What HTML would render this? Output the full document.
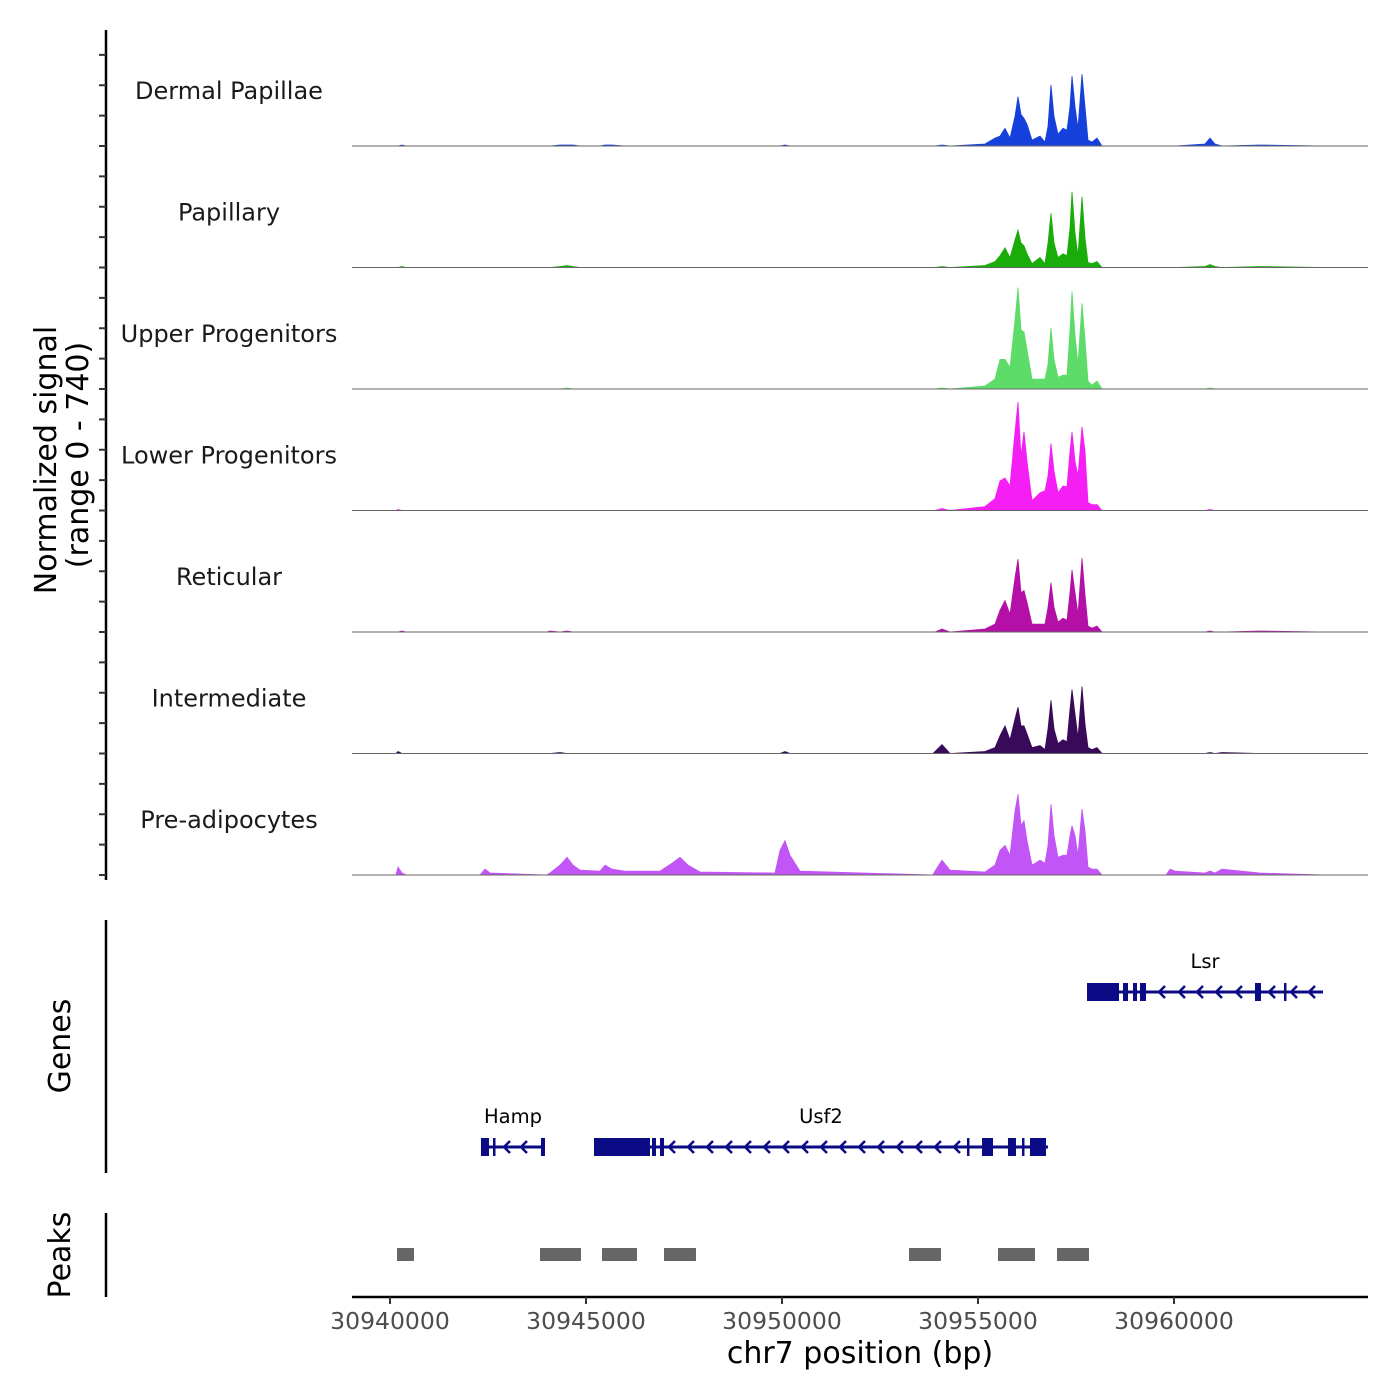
<!DOCTYPE html>
<html><head><meta charset="utf-8"><style>
body{margin:0;background:#fff;}
svg{display:block;font-family:"DejaVu Sans","Liberation Sans",sans-serif;}
</style></head><body>
<svg id="chart" width="1400" height="1400" viewBox="0 0 1400 1400" xmlns="http://www.w3.org/2000/svg"></svg>
<script>
// ---- data ----
const positions = [30939031,30940150,30940204,30940306,30940408,30942250,30942296,30942423,30942551,30944000,30944082,30944337,30944515,30944668,30944847,30945357,30945485,30945663,30945995,30946888,30947194,30947398,30947602,30947908,30949821,30949949,30950076,30950204,30950459,30953850,30953903,30954082,30954286,
30955178,30955434,30955561,30955689,30955816,30955944,30956020,30956097,30956173,30956250,30956377,30956582,30956709,30956786,30956862,30956939,30957041,30957168,30957270,30957347,30957398,30957474,30957551,30957653,30957730,30957806,30957908,30958036,30958163,
30959800,30959898,30960025,30960790,30960918,30961046,30961224,30962194,30963852];
const trackNames = ["Dermal Papillae","Papillary","Upper Progenitors","Lower Progenitors","Reticular","Intermediate","Pre-adipocytes"];
const trackColors = ["#1540dc","#1aad0a","#5ddc6a","#f51ef5","#b410a8","#3a0a5a","#c255f5"];
const sigDermal = [0,0,0,6,0,0,0,0,0,0,0,6,6,6,0,0,6,6,0,0,0,0,0,0,0,0,6,0,0,0,0,6,0,
12,48,60,108,48,180,300,192,168,132,36,60,24,120,372,180,72,108,96,240,426,240,108,438,240,36,24,48,0,
0,0,0,12,48,12,0,6,0];
const sigPapillary = [0,0,0,6,0,0,0,0,0,0,0,6,12,6,0,0,0,0,0,0,0,0,0,0,0,0,0,0,0,0,0,6,0,
12,36,72,120,60,168,228,150,132,84,24,60,24,150,330,150,60,84,72,240,462,210,72,432,180,30,24,36,0,
0,0,0,6,18,6,0,6,0];
const sigUpper = [0,0,0,0,0,0,0,0,0,0,0,0,6,0,0,0,0,0,0,0,0,0,0,0,0,0,0,0,0,0,0,6,0,
18,60,180,180,132,420,618,360,348,240,60,60,60,150,372,180,72,84,84,360,594,330,150,522,300,48,24,48,0,
0,0,0,0,6,0,0,0,0];
const sigLower = [0,0,6,0,0,0,0,0,0,0,0,0,0,0,0,0,0,0,0,0,0,0,0,0,0,0,0,0,0,0,0,12,0,
24,72,180,198,150,480,660,330,480,300,60,108,120,210,408,240,108,150,144,360,480,300,210,510,360,48,36,36,0,
0,0,0,0,6,0,0,0,0];
const sigReticular = [0,0,0,6,0,0,0,0,0,0,6,0,6,0,0,0,0,0,0,0,0,0,0,0,0,0,0,0,0,0,0,18,0,
18,48,132,192,108,330,444,240,252,180,48,48,48,150,300,150,60,84,72,240,378,240,108,450,228,36,24,36,0,
0,0,0,0,6,0,0,6,0];
const sigIntermediate = [0,0,12,0,0,0,0,0,0,0,0,6,0,0,0,0,0,0,0,0,0,0,0,0,0,0,12,0,0,0,12,54,0,
12,36,108,168,84,210,282,168,168,120,36,48,24,150,324,150,60,84,72,270,390,240,96,408,180,36,24,36,0,
0,0,0,0,6,0,6,0,0];
const sigPreadipo = [0,0,48,12,0,0,0,36,12,0,12,60,108,60,30,24,60,36,24,24,72,108,60,18,12,150,210,120,24,0,24,90,30,
18,60,150,180,120,390,492,300,330,210,60,90,72,180,432,240,108,120,120,240,300,240,120,402,270,48,36,36,0,
0,36,24,12,24,12,36,12,0];
const signals = [sigDermal,sigPapillary,sigUpper,sigLower,sigReticular,sigIntermediate,sigPreadipo];
const xTicks = [30940000,30945000,30950000,30955000,30960000];
const peakStarts = [30940179,30943827,30945408,30946990,30953240,30955510,30957015];
const peakEnds   = [30940612,30944872,30946301,30947806,30954056,30956454,30957832];
const geneNames = ["Lsr","Hamp","Usf2"];
const geneStarts = [30957781,30942321,30945204];
const geneEnds = [30963801,30943954,30956786];
const lsrExons = [[30957781,30958597],[30958699,30958827],[30958954,30959056],[30959133,30959286],[30962066,30962219],[30962806,30962857]];
const hampExons = [[30942321,30942525],[30942628,30942679],[30943852,30943954]];
const usf2Exons = [[30945204,30946633],[30946684,30946786],[30946888,30946990],[30954719,30954770],[30955102,30955383],[30955765,30955969],[30956122,30956173],[30956326,30956735]];
const lsrArrows = [30959643,30960153,30960612,30961097,30961607,30962449,30963010,30963469];
const hampArrows = [30942934,30943367];
const usf2Arrows = [30947143,30947627,30948112,30948597,30949082,30949566,30950051,30950536,30951020,30951505,30951990,30952475,30952959,30953444,30953928,30954413];

// ---- scales ----
const X0=352, X1=1368, BP0=30939031, BP1=30964949;
const xs = bp => X0 + (bp-BP0)/(BP1-BP0)*(X1-X0);
const TRACK_H = 121.5, BASE0 = 146, YMAX = 740;
const ys = (t,v) => BASE0 + t*TRACK_H - v/YMAX*TRACK_H;

const NS="http://www.w3.org/2000/svg";
const svg=document.getElementById('chart');
function mk(tag, attrs, parent){const e=document.createElementNS(NS,tag);for(const k in attrs)e.setAttribute(k,attrs[k]);(parent||svg).appendChild(e);return e;}

signals.forEach((vals,t)=>{
  const g=mk('g',{});
  
  
  let d='M'+xs(positions[0])+','+ys(t,0);
  positions.forEach((p,i)=>{d+=' L'+xs(p).toFixed(1)+','+ys(t,vals[i]).toFixed(1);});
  d+=' L'+xs(positions[positions.length-1])+','+ys(t,0)+' Z';
  const a=mk('path',{d:d,fill:trackColors[t],stroke:trackColors[t],'stroke-width':0.8},g);
  
  
  const bl=mk('line',{x1:X0,x2:X1,y1:ys(t,0),y2:ys(t,0),stroke:'#666','stroke-width':1},g);
  
  
  const lb=mk('text',{x:229,y:ys(t,0)-47,'text-anchor':'middle','font-size':24,fill:'#1a1a1a'},g);
  lb.textContent=trackNames[t];
  
  
});

const ax=mk('line',{x1:106,x2:106,y1:30,y2:880,stroke:'#000','stroke-width':2.5});


for(let k=0;k<28;k++){
  const y=875-k*TRACK_H/4;
  const tk=mk('line',{x1:99,x2:106,y1:y,y2:y,stroke:'#333','stroke-width':2});
  
  
}
const yt=mk('text',{transform:'translate(56,460) rotate(-90)','text-anchor':'middle','font-size':30,fill:'#000'});


yt.textContent='Normalized signal';
const yt2=mk('text',{transform:'translate(88,455) rotate(-90)','text-anchor':'middle','font-size':30,fill:'#000'});


yt2.textContent='(range 0 - 740)';

const ga=mk('line',{x1:106,x2:106,y1:920,y2:1173,stroke:'#000','stroke-width':2.5});


const gt=mk('text',{transform:'translate(70,1046) rotate(-90)','text-anchor':'middle','font-size':30,fill:'#000'});


gt.textContent='Genes';
const geneY=[992,1147,1147];
const geneEx=[lsrExons,hampExons,usf2Exons];
const geneAr=[lsrArrows,hampArrows,usf2Arrows];
const C='#0b0b85';
geneNames.forEach((n,i)=>{
  const g=mk('g',{});
  
  
  const y=geneY[i];
  mk('line',{x1:xs(geneStarts[i]),x2:xs(geneEnds[i]),y1:y,y2:y,stroke:C,'stroke-width':3},g);
  geneEx[i].forEach(e=>{
    const r=mk('rect',{x:xs(e[0]),y:y-9,width:Math.max(2.5,xs(e[1])-xs(e[0])),height:18,fill:C},g);
    
    
  });
  geneAr[i].forEach(p=>{
    const x=xs(p);
    const a=mk('path',{d:`M${x+5},${y-6} L${x-1},${y} L${x+5},${y+6}`,fill:'none',stroke:C,'stroke-width':2.5},g);
    
    
  });
  const mid=(xs(geneStarts[i])+xs(geneEnds[i]))/2;
  const t=mk('text',{x:mid,y:y-24,'text-anchor':'middle','font-size':19.5,fill:'#000'},g);
  t.textContent=n;
  
  
});

const pa=mk('line',{x1:106,x2:106,y1:1213,y2:1297,stroke:'#000','stroke-width':2.5});


const pt=mk('text',{transform:'translate(70,1255) rotate(-90)','text-anchor':'middle','font-size':30,fill:'#000'});


pt.textContent='Peaks';
peakStarts.forEach((s,i)=>{
  const r=mk('rect',{x:xs(s),y:1248,width:xs(peakEnds[i])-xs(s),height:13,fill:'#666'});
  
  
});

const xa=mk('line',{x1:X0,x2:X1,y1:1297,y2:1297,stroke:'#000','stroke-width':2.5});


xTicks.forEach(v=>{
  const x=xs(v);
  const tk=mk('line',{x1:x,x2:x,y1:1297,y2:1304,stroke:'#333','stroke-width':2});
  
  
  const tl=mk('text',{x:x,y:1329,'text-anchor':'middle','font-size':23.5,fill:'#4d4d4d'});
  tl.textContent=String(v);
  
  
});
const xt=mk('text',{x:860,y:1363,'text-anchor':'middle','font-size':30,fill:'#000'});


xt.textContent='chr7 position (bp)';
</script>
</body></html>
